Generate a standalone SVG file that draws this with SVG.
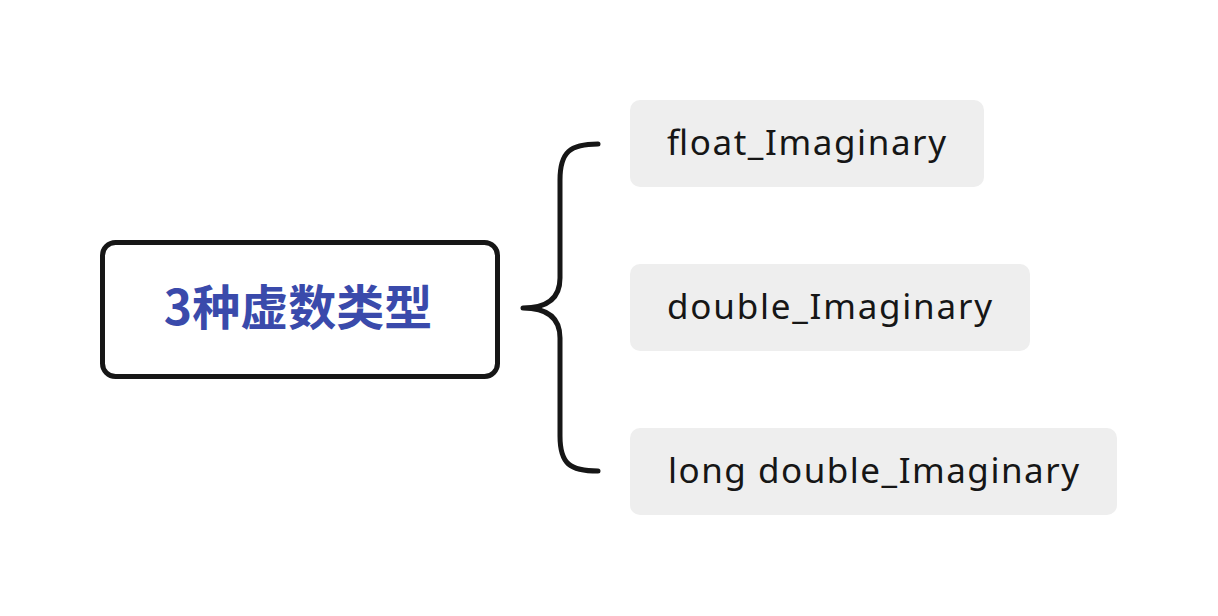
<svg xmlns="http://www.w3.org/2000/svg" width="1218" height="616" viewBox="0 0 1218 616">
<style>
.main{fill:#fff;stroke:#161616;stroke-width:5}
.leaf{fill:#eeeeee}
.mt{font-family:"Noto Sans CJK SC","Noto Sans",sans-serif;font-weight:700;font-size:48px;fill:#3a4aab}
.lt{font-family:"Noto Sans","Open Sans",sans-serif;font-size:35px;fill:#161616}
.brace{fill:none;stroke:#161616;stroke-width:5;stroke-linecap:round;stroke-linejoin:round}
</style>
<rect width="1218" height="616" fill="#fff"/>
<g id="connectors">
<path class="brace" d="M598,144 C570,144 560,152 560,180 L560,278 C560,300 545,308 523,308 C545,308 560,316 560,338 L560,436 C560,464 570,471 598,471"/>
</g>
<g id="root">
<rect class="main" x="102.5" y="242.5" width="395" height="134" rx="13"/>
<text class="mt" x="298" y="325" text-anchor="middle">3种虚数类型</text>
</g>
<g id="n1">
<rect class="leaf" x="630" y="100" width="354" height="87" rx="10"/>
<text class="lt" x="667" y="155" textLength="279">float_Imaginary</text>
</g>
<g id="n2">
<rect class="leaf" x="630" y="264" width="400" height="87" rx="10"/>
<text class="lt" x="667" y="319" textLength="325">double_Imaginary</text>
</g>
<g id="n3">
<rect class="leaf" x="630" y="428" width="487" height="87" rx="10"/>
<text class="lt" x="668" y="483" textLength="411">long double_Imaginary</text>
</g>
</svg>
